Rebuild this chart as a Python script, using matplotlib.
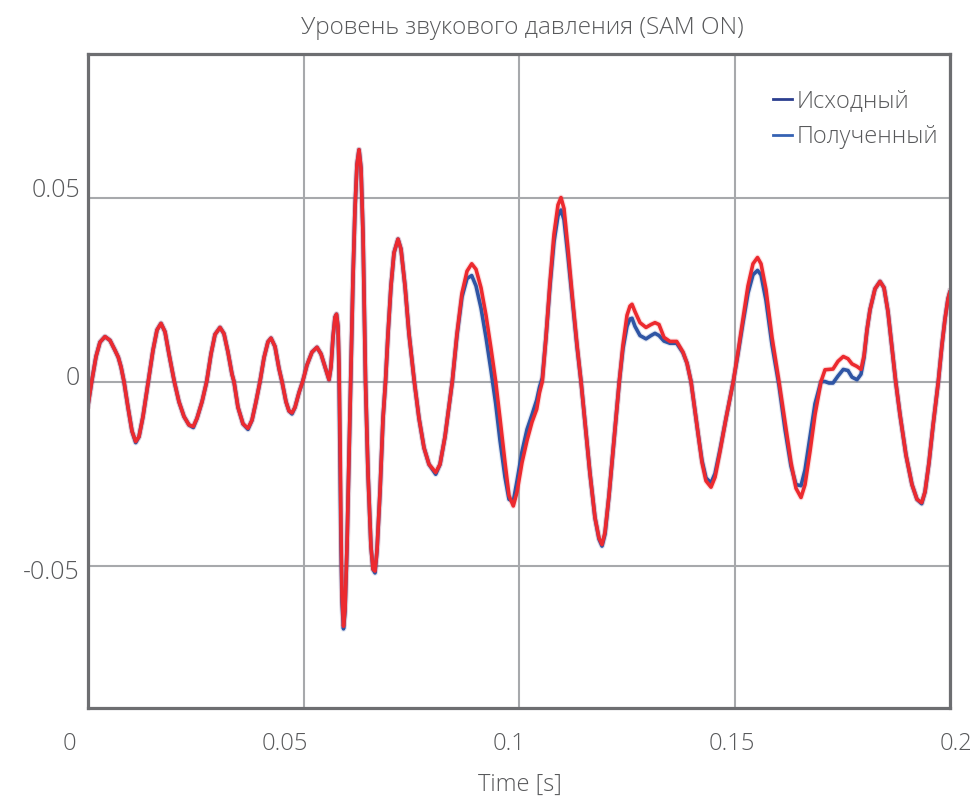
import numpy as np
import matplotlib
matplotlib.use("Agg")
import matplotlib.pyplot as plt
from matplotlib.lines import Line2D

plt.rcParams['font.family'] = ['Open Sans', 'DejaVu Sans']
plt.rcParams['font.weight'] = 'light'

# время, с
t = [0.0, 0.00086, 0.00186, 0.00278, 0.00394, 0.00510, 0.00626, 0.00703, 0.00766, 0.00835,
     0.00928, 0.01021, 0.01107, 0.01183, 0.01276, 0.01399, 0.01508, 0.01601, 0.01694, 0.01787,
     0.01879, 0.02002, 0.02111, 0.02227, 0.02343, 0.02443, 0.02529, 0.02645, 0.02754, 0.02854,
     0.02947, 0.03063, 0.03155, 0.03248, 0.03341, 0.03387, 0.03480, 0.03596, 0.03712, 0.03805,
     0.03898, 0.03991, 0.04084, 0.04176, 0.04246, 0.04339, 0.04432, 0.04501, 0.04594, 0.04664,
     0.04733, 0.04803, 0.04896, 0.04981, 0.05081, 0.05197, 0.05313, 0.05406, 0.05499, 0.05592,
     0.05638, 0.05684, 0.05731, 0.05766, 0.05800, 0.05824, 0.05847, 0.05870, 0.05893, 0.05928,
     0.05963, 0.06009, 0.06056, 0.06102, 0.06148, 0.06195, 0.06241, 0.06288, 0.06334, 0.06381,
     0.06439, 0.06497, 0.06566, 0.06613, 0.06659, 0.06705, 0.06775, 0.06845, 0.06903, 0.06961,
     0.07030, 0.07100, 0.07193, 0.07262, 0.07355, 0.07448, 0.07571, 0.07680, 0.07796, 0.07912,
     0.08067, 0.08167, 0.08283, 0.08452, 0.08561, 0.08677, 0.08794, 0.08903, 0.09002, 0.09118,
     0.09234, 0.09350, 0.09459, 0.09559, 0.09675, 0.09768, 0.09868, 0.09954, 0.10070, 0.10186,
     0.10302, 0.10411, 0.10476, 0.10541, 0.10626, 0.10719, 0.10812, 0.10905, 0.10974, 0.11044,
     0.11137, 0.11230, 0.11346, 0.11439, 0.11531, 0.11647, 0.11763, 0.11856, 0.11926, 0.11995,
     0.12088, 0.12204, 0.12327, 0.12413, 0.12506, 0.12575, 0.12622, 0.12691, 0.12807, 0.12947,
     0.13063, 0.13155, 0.13248, 0.13364, 0.13503, 0.13659, 0.13805, 0.13898, 0.13991, 0.14072,
     0.14153, 0.14246, 0.14339, 0.14455, 0.14548, 0.14664, 0.14803, 0.14972, 0.15081, 0.15197,
     0.15313, 0.15429, 0.15534, 0.15615, 0.15731, 0.15870, 0.16032, 0.16172, 0.16311, 0.16427,
     0.16543, 0.16636, 0.16752, 0.16868, 0.17007, 0.17100, 0.17193, 0.17285, 0.17401, 0.17524,
     0.17633, 0.17726, 0.17842, 0.17935, 0.18005, 0.18074, 0.18144, 0.18260, 0.18376, 0.18469,
     0.18561, 0.18654, 0.18740, 0.18840, 0.18979, 0.19118, 0.19234, 0.19343, 0.19420, 0.19513,
     0.19606, 0.19729, 0.19814, 0.19884, 0.19954, 0.20000]

# Полученный (красная кривая)
poluchenny = [-0.0065, 0.0, 0.0068, 0.0107, 0.0122, 0.0112, 0.0085, 0.0066, 0.0040, 0.0,
              -0.0070, -0.0135, -0.0163, -0.0150, -0.0095, 0.0, 0.0085, 0.0140, 0.0158, 0.0135,
              0.0075, 0.0, -0.0055, -0.0095, -0.0118, -0.0122, -0.0100, -0.0055, 0.0, 0.0075,
              0.0128, 0.0147, 0.0130, 0.0080, 0.0020, 0.0, -0.0070, -0.0115, -0.0127, -0.0105,
              -0.0055, 0.0, 0.0065, 0.0108, 0.0118, 0.0095, 0.0035, 0.0, -0.0055, -0.0080,
              -0.0085, -0.0070, -0.0030, 0.0, 0.0045, 0.0080, 0.0093, 0.0075, 0.0040, 0.0005,
              0.0040, 0.0120, 0.0175, 0.0183, 0.0150, 0.0050, -0.0150, -0.0400, -0.0580, -0.0665,
              -0.0620, -0.0450, -0.0200, 0.0050, 0.0280, 0.0470, 0.0590, 0.0630, 0.0580, 0.0400,
              0.0, -0.0250, -0.0450, -0.0510, -0.0515, -0.0460, -0.0300, -0.0100, 0.0, 0.0130,
              0.0260, 0.0350, 0.0387, 0.0360, 0.0260, 0.0130, 0.0, -0.0100, -0.0180, -0.0225,
              -0.0247, -0.0225, -0.0150, 0.0, 0.0130, 0.0240, 0.0300, 0.0320, 0.0305, 0.0255,
              0.0180, 0.0090, 0.0, -0.0100, -0.0220, -0.0310, -0.0338, -0.0300, -0.0220, -0.0160,
              -0.0110, -0.0075, -0.0030, 0.0, 0.0120, 0.0270, 0.0400, 0.0480, 0.0500, 0.0470,
              0.0360, 0.0240, 0.0100, 0.0, -0.0110, -0.0250, -0.0370, -0.0425, -0.0443, -0.0410,
              -0.0310, -0.0160, 0.0, 0.0100, 0.0180, 0.0205, 0.0210, 0.0190, 0.0160, 0.0147,
              0.0155, 0.0160, 0.0155, 0.0120, 0.0109, 0.0109, 0.0080, 0.0050, 0.0, -0.0070,
              -0.0142, -0.0220, -0.0270, -0.0287, -0.0260, -0.0190, -0.0100, 0.0, 0.0080, 0.0170,
              0.0260, 0.0320, 0.0337, 0.0320, 0.0250, 0.0120, 0.0, -0.0110, -0.0220, -0.0290,
              -0.0315, -0.0280, -0.0190, -0.0090, 0.0, 0.0032, 0.0033, 0.0034, 0.0055, 0.0068,
              0.0062, 0.0048, 0.0041, 0.0033, 0.0070, 0.0140, 0.0195, 0.0252, 0.0272, 0.0255,
              0.0190, 0.0090, 0.0, -0.0090, -0.0200, -0.0280, -0.0320, -0.0329, -0.0300, -0.0220,
              -0.0120, 0.0, 0.0100, 0.0170, 0.0225, 0.0245]

# Исходный (синяя кривая)
iskhodny = [-0.0065, 0.0, 0.0068, 0.0107, 0.0122, 0.0112, 0.0085, 0.0066, 0.0040, 0.0,
            -0.0070, -0.0135, -0.0166, -0.0150, -0.0095, 0.0, 0.0085, 0.0140, 0.0158, 0.0135,
            0.0075, 0.0, -0.0055, -0.0095, -0.0118, -0.0125, -0.0100, -0.0055, 0.0, 0.0075,
            0.0128, 0.0147, 0.0130, 0.0080, 0.0020, 0.0, -0.0070, -0.0115, -0.0130, -0.0105,
            -0.0055, 0.0, 0.0065, 0.0108, 0.0118, 0.0095, 0.0035, 0.0, -0.0055, -0.0080,
            -0.0088, -0.0070, -0.0030, 0.0, 0.0045, 0.0080, 0.0093, 0.0075, 0.0040, 0.0005,
            0.0040, 0.0120, 0.0175, 0.0183, 0.0150, 0.0030, -0.0200, -0.0450, -0.0600, -0.0672,
            -0.0625, -0.0450, -0.0200, 0.0050, 0.0280, 0.0470, 0.0590, 0.0630, 0.0580, 0.0400,
            0.0, -0.0250, -0.0450, -0.0510, -0.0520, -0.0460, -0.0300, -0.0100, 0.0, 0.0130,
            0.0260, 0.0350, 0.0387, 0.0360, 0.0260, 0.0130, 0.0, -0.0100, -0.0180, -0.0225,
            -0.0252, -0.0225, -0.0150, 0.0, 0.0125, 0.0230, 0.0280, 0.0288, 0.0260, 0.0200,
            0.0120, 0.0030, -0.0060, -0.0160, -0.0260, -0.0320, -0.0325, -0.0270, -0.0190, -0.0130,
            -0.0090, -0.0050, -0.0015, 0.0010, 0.0120, 0.0260, 0.0380, 0.0450, 0.0466, 0.0440,
            0.0340, 0.0230, 0.0095, 0.0, -0.0110, -0.0250, -0.0370, -0.0428, -0.0447, -0.0415,
            -0.0310, -0.0160, 0.0, 0.0090, 0.0150, 0.0170, 0.0172, 0.0150, 0.0125, 0.0116,
            0.0125, 0.0131, 0.0125, 0.0110, 0.0104, 0.0104, 0.0078, 0.0050, 0.0, -0.0070,
            -0.0140, -0.0215, -0.0262, -0.0275, -0.0250, -0.0185, -0.0100, 0.0, 0.0075, 0.0160,
            0.0240, 0.0290, 0.0302, 0.0290, 0.0220, 0.0100, -0.0010, -0.0130, -0.0230, -0.0280,
            -0.0283, -0.0240, -0.0150, -0.0060, 0.0, 0.0, -0.0004, -0.0004, 0.0015, 0.0033,
            0.0030, 0.0012, 0.0005, 0.0020, 0.0065, 0.0140, 0.0195, 0.0252, 0.0272, 0.0255,
            0.0190, 0.0090, 0.0, -0.0090, -0.0200, -0.0280, -0.0320, -0.0332, -0.0300, -0.0220,
            -0.0120, 0.0, 0.0100, 0.0170, 0.0225, 0.0245]

xticks = [0, 0.05, 0.1, 0.15, 0.2]
xtick_labels = ['0', '0.05', '0.1', '0.15', '0.2']
yticks = [-0.05, 0, 0.05]
ytick_labels = ['-0.05', '0', '0.05']

text_col = '#58595b'
red = '#ec2a2f'
blue = '#2f55a4'

fig = plt.figure(figsize=(9.8, 7.99), dpi=100)
ax = fig.add_axes([88/980, 1-708/799, 862/980, 654/799])

# лёгкий ореол как в оригинале, затем сами линии
ax.plot(t, iskhodny, color=blue, lw=4.2, alpha=0.15, solid_joinstyle='round', zorder=2)
ax.plot(t, poluchenny, color=red, lw=4.2, alpha=0.15, solid_joinstyle='round', zorder=2)
ax.plot(t, iskhodny, color=blue, lw=2.6, solid_joinstyle='round', solid_capstyle='round', zorder=3)
ax.plot(t, poluchenny, color=red, lw=2.6, solid_joinstyle='round', solid_capstyle='round', zorder=4)

ax.set_xlim(0, 0.2)
ax.set_ylim(-0.0887, 0.089)

ax.set_xticks(xticks)
ax.set_yticks(yticks)
ax.set_xticklabels([])
ax.set_yticklabels([])
ax.tick_params(length=0)
ax.grid(True, color='#a7a9ac', lw=1.5)
ax.set_axisbelow(True)
for s in ax.spines.values():
    s.set_color('#6d6e71')
    s.set_linewidth(2.3)
    s.set_zorder(5)

# подписи делений (сдвинуты как в оригинале)
x_shift = [-19, -19, -10, -3, 6]
for v, lab, dx in zip(xticks, xtick_labels, x_shift):
    ax.annotate(lab, xy=(v, 0), xycoords=('data', 'axes fraction'),
                xytext=(dx, -36), textcoords='offset pixels',
                ha='center', va='center', fontsize=17, color=text_col)
y_shift = [-7, 3, 7]
for v, lab, dy in zip(yticks, ytick_labels, y_shift):
    ax.annotate(lab, xy=(0, v), xycoords=('axes fraction', 'data'),
                xytext=(-8, dy), textcoords='offset pixels',
                ha='right', va='center', fontsize=18, color=text_col)

fig.text(520/980, 1-785/799, 'Time [s]', ha='center', va='center', fontsize=17, color=text_col)
fig.text(522/980, 1-28/799, 'Уровень звукового давления (SAM ON)', ha='center', va='center',
         fontsize=17.5, color=text_col)

handles = [Line2D([], [], color='#2b3f8f', lw=2),
           Line2D([], [], color='#3562b3', lw=2)]
ax.legend(handles, ['Исходный', 'Полученный'], loc='upper left',
          bbox_to_anchor=((773-88)/862, (708-89)/654), frameon=False,
          fontsize=17, handlelength=0.8, handletextpad=0.2, labelspacing=0.5,
          borderaxespad=0, borderpad=0, labelcolor=text_col)

fig.savefig('out.png', dpi=100, facecolor='white')
